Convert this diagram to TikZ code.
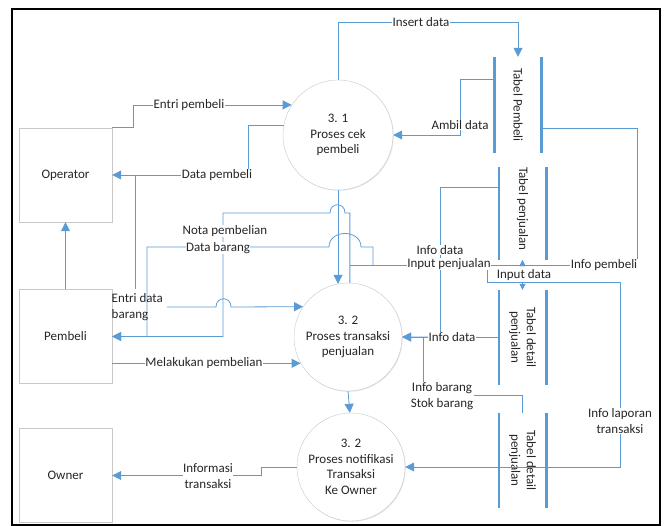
\documentclass[tikz,border=0pt]{standalone}
\usepackage{fontspec}
\setmainfont{Carlito}
\usepackage{tikz}
\usetikzlibrary{arrows.meta,positioning,calc,shadows}
\definecolor{flowblue}{RGB}{91,155,213}
\definecolor{edgegray}{RGB}{200,200,200}
\definecolor{inkgray}{RGB}{38,38,38}

\tikzset{
  flow/.style={draw=flowblue, line width=0.8pt},
  tip/.style={-{Triangle[length=9pt,width=9pt]}},
  smalltip/.style={-{Triangle[length=6pt,width=6pt]}},
  entity/.style={rectangle, draw=edgegray, fill=white, minimum width=93pt, minimum height=94pt,
    drop shadow={shadow xshift=0.8pt, shadow yshift=-0.8pt, opacity=0.2}},
  process/.style={circle, draw=edgegray, fill=white, align=center, inner sep=0pt,
    drop shadow={shadow xshift=0.8pt, shadow yshift=-0.8pt, opacity=0.2}},
  store/.style={minimum width=47pt, inner sep=0pt},
  storeline/.style={draw=flowblue, line width=2.6pt},
  lbl/.style={fill=white, inner sep=0.5pt, align=center, text=inkgray},
}

\begin{document}
\begin{tikzpicture}[x=1pt, y=-1pt, font=\fontsize{13}{15.5}\selectfont, text=inkgray]
    \useasboundingbox (0,0) rectangle (668,526);
    \draw[line width=1.1pt] (12,9) rectangle (660,525);

    % External entities
    \node[entity] (operator) at (65.5,175) {Operator};
    \node[entity] (pembeli) at (65.5,336.5) {Pembeli};
    \node[entity] (owner) at (65.5,475.5) {Owner};

    % Processes
    \node[process, minimum size=110pt] (p31) at (338,135) {3. 1\\Proses cek\\pembeli};
    \node[process, minimum size=108pt] (p32) at (348,337) {3. 2\\Proses transaksi\\penjualan};
    \node[process, minimum size=108pt] (p33) at (351,467) {3. 2\\Proses notifikasi\\Transaksi\\Ke Owner};

    % Data stores
    \foreach \sname/\sx/\sy/\sh/\ty/\stext in {
        tpembeli/518/105/96/105/{Tabel Pembeli},
        tpenjualan/522.5/213.5/93/209/{Tabel penjualan},
        tdetaila/522.5/337.5/95/337.5/{Tabel detail\\penjualan},
        tdetailb/522.5/460.5/95/460.5/{Tabel detail\\penjualan}} {
      \node[store, minimum height=\sh pt] (\sname) at (\sx,\sy) {};
      \node[rotate=-90, align=center] at (\sx,\ty) {\stext};
      \draw[storeline] (\sname.north west) -- (\sname.south west);
      \draw[storeline] (\sname.north east) -- (\sname.south east);
    }

    % Bend points
    \coordinate (insbend) at (338,22.5);
    \coordinate (dpbend) at (248,175);
    \coordinate (edtop) at (135,175);
    \coordinate (edend) at (135,289);
    \coordinate (npy) at (0,213);
    \coordinate (ipy) at (0,265);
    \coordinate (dbfoot) at (373,265);
    \coordinate (ipright) at (637,128);
    \coordinate (idfoot) at (487,265);
    \coordinate (idy) at (0,282);
    \coordinate (ilx) at (620,0);
    \coordinate (ifx) at (440,0);
    \coordinate (ibx) at (423,0);
    \coordinate (iby) at (0,395);

    % Flows around 3.1
    \draw[flow,tip] (p31.north) -- (p31.north |- insbend) -| (tpembeli.north);
    \draw[flow,tip] (operator.north east) -- ++(21,0) |- (p31.147);
    \draw[flow,tip] (p31.170) -| (dpbend) -- (operator.east);
    \draw[flow,tip] ($(tpembeli.north west)+(0,23)$) -| (460,135) -- (p31.east);
    \draw[flow,tip] (p31.south) -- (p31.south |- p32.101);
    \draw[flow,tip] (pembeli.north) -- (operator.south);

    % Flows around 3.2
    \draw[flow] (edtop) -- (edend);
    \draw[flow,tip] (167,307) -- (216,307) .. controls (216,296) and (231,296) .. (231,307) -- (p32.146);
    \draw[flow,tip] (pembeli.east |- p32.209) -- (p32.209);
    \draw[flow,tip] (p32.88) -- (p32.88 |- npy) -- (345,213) .. controls (345,202) and (330,202) .. (330,213)
        -- (223,213) |- (pembeli.east);
    \draw[flow,tip] (dbfoot) -- (373,247) -- (361,247) .. controls (361,229) and (329,229) .. (329,247)
        -- (147,247) |- (pembeli.east);
    \draw[flow,smalltip] (p32.88 |- ipy) -- (tpenjualan.south |- ipy) -- (tpenjualan.south);
    \draw[flow,smalltip] (tpembeli.east |- ipright) -- (ipright) |- (tpenjualan.south |- ipy) -- (tpenjualan.south);
    \draw[flow,smalltip] (idfoot) |- (tdetaila.north |- idy) -- (tdetaila.north);
    \draw[flow,tip] ($(tpenjualan.north west)+(0,21)$) -| (ifx |- p32.east) -- (p32.east);
    \draw[flow,tip] (tdetaila.west) -- (p32.east);
    \draw[flow] (tdetailb.north) |- (ibx |- iby) -- (ibx |- p32.east);
    \draw[flow,tip] (p32.south |- p32.272) -- (p32.272 |- p33.88);

    % Flows around notifikasi
    \draw[flow,tip] (tdetaila.north |- idy) -- (ilx |- idy) |- (p33.east);
    \draw[flow,tip] (p33.west) -- ++(-35,0) |- (owner.east);

    % Flow labels
    \node[lbl] (linsert) at (421,22.5) {Insert data};
    \node[lbl] (lentri) at (189,105) {Entri pembeli};
    \node[lbl] (ldatap) at (217,175) {Data pembeli};
    \node[lbl] (lambil) at (460,125) {Ambil data};
    \node[lbl] (lnota) at (225,231) {Nota pembelian};
    \node[lbl] (ldatab) at (218,248) {Data barang};
    \node[lbl, fill=none, align=left, anchor=west] (lentrib) at (111,307) {Entri data\\barang};
    \node[lbl, inner sep=0pt] (linput) at (449,264) {Input penjualan};
    \node[lbl, inner sep=0pt] (linfoa) at (440,250) {Info data};
    \node[lbl] (linpd) at (524,275) {Input data};
    \node[lbl] (linfop) at (604,265) {Info pembeli};
    \node[lbl] (linfob) at (452,337) {Info data};
    \node[lbl] (lbarang) at (442,396) {Info barang\\Stok barang};
    \node[lbl] (llaporan) at (620,421) {Info laporan\\transaksi};
    \node[lbl] (lmelakukan) at (204,363) {Melakukan pembelian};
    \node[lbl] (linformasi) at (208,476) {Informasi\\transaksi};
\end{tikzpicture}
\end{document}
